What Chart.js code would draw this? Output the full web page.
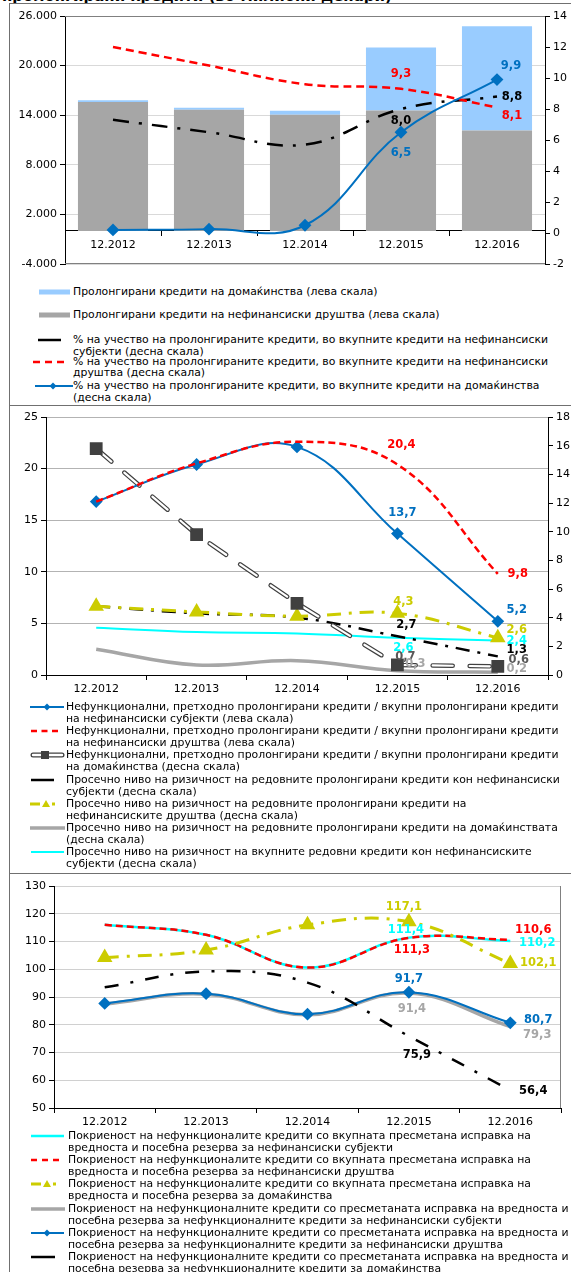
<!DOCTYPE html>
<html>
<head>
<meta charset="utf-8">
<script src="https://cdn.jsdelivr.net/npm/chart.js@4.4.1/dist/chart.umd.min.js"></script>
<style>
html, body { margin: 0; padding: 0; background: #fff; }
body { width: 571px; height: 1272px; overflow: hidden; position: relative; font-family: "DejaVu Sans", Verdana, sans-serif; color: #000; }
canvas { position: absolute; }
.rule { position: absolute; background: #707070; }
.item { position: absolute; left: 0; font-size: 10.85px; white-space: nowrap; }
.item svg { position: absolute; left: 0; top: 0; }
.title { position: absolute; left: 2px; top: -13px; font-weight: bold; font-size: 15px; white-space: nowrap; }
</style>
</head>
<body>
<div class="title">пролонгирани кредити (во милиони денари)</div>
<div class="rule" style="left:9px;top:3px;width:1px;height:1269px"></div>
<div class="rule" style="left:9px;top:3px;width:562px;height:1px"></div>
<div class="rule" style="left:9px;top:405px;width:562px;height:1px"></div>
<div class="rule" style="left:9px;top:873px;width:562px;height:1px"></div>

<canvas id="c1" width="600" height="270" style="left:10px;top:4px"></canvas>
<canvas id="c2" width="600" height="296" style="left:10px;top:406px"></canvas>
<canvas id="c3" width="600" height="260" style="left:10px;top:874px"></canvas>
<div id="leg"></div>

<script>
// ---- DATA
const years = ['12.2012', '12.2013', '12.2014', '12.2015', '12.2016'];

// chart 1 (лева скала, милиони денари)
const corpLoans = [15600, 14650, 14050, 14580, 12160];
const hhLoans = [200, 250, 500, 7600, 12600];
// chart 1 (десна скала, %)
const shareTotal = [7.3, 6.5, 5.7, 8.0, 8.8];
const shareCorp = [12.0, 10.8, 9.6, 9.3, 8.1];
const shareHH = [0.2, 0.25, 0.5, 6.5, 9.9];
const ticks1Left = [-4000, 26000, 6000];
const ticks1Right = [-2, 14, 2];

// chart 2 (лева скала)
const nplTotal = [16.8, 20.4, 22.1, 13.7, 5.2];
const nplCorp = [16.8, 20.5, 22.6, 20.4, 9.8];
// chart 2 (десна скала)
const nplHH = [15.8, 9.8, 5.0, 0.7, 0.6];
const riskTotal = [4.8, 4.3, 4.0, 2.7, 1.3];
const riskCorp = [4.8, 4.4, 4.1, 4.3, 2.6];
const riskHH = [1.8, 0.7, 1.0, 0.3, 0.2];
const riskAll = [3.3, 3.0, 2.9, 2.6, 2.4];
const ticks2Left = [0, 25, 5];
const ticks2Right = [0, 18, 2];

// chart 3
const coverTotal = [116.0, 112.4, 100.6, 111.4, 110.2];
const coverCorp = [116.0, 112.4, 100.6, 111.3, 110.6];
const coverHH = [104.2, 106.9, 116.0, 117.1, 102.1];
const coverNplTotal = [87.5, 91.0, 83.6, 91.4, 79.3];
const coverNplCorp = [87.7, 91.2, 83.8, 91.7, 80.7];
const coverNplHH = [93.5, 99.2, 95.2, 75.9, 56.4];
const ticks3 = [50, 130, 10];

// ---- COLORS
const BLUE = '#0070c0', RED = '#ff0000', GREY = '#a6a6a6', DARK = '#404040',
      YELLOW = '#cccc00', CYAN = '#00ffff', LBLUE = '#99ccff';
const FONT = '"DejaVu Sans", Verdana, sans-serif';

function fmtDec(v){ return v.toFixed(1).replace('.', ','); }
function fmtThousands(v){
  const s = Math.abs(v).toString().replace(/\B(?=(\d{3})+(?!\d))/g, '.');
  return (v < 0 ? '-' : '') + s;
}

//-----PLUGINS
const framePlugin = {
  id: 'frame',
  beforeDatasetsDraw(chart, args, opts){
    const a = chart.chartArea, c = chart.ctx;
    if (!opts.sides) return;
    c.save();
    c.strokeStyle = opts.color || '#808080';
    c.lineWidth = 1;
    c.beginPath();
    opts.sides.forEach(s => {
      if (s === 'top'){ c.moveTo(a.left, Math.round(a.top) + 0.5); c.lineTo(a.right, Math.round(a.top) + 0.5); }
      if (s === 'bottom'){ c.moveTo(a.left, Math.round(a.bottom) - 0.5); c.lineTo(a.right, Math.round(a.bottom) - 0.5); }
      if (s === 'right'){ c.moveTo(Math.round(a.right) - 0.5, a.top); c.lineTo(Math.round(a.right) - 0.5, a.bottom); }
    });
    c.stroke();
    c.restore();
  }
};

const valueLabelPlugin = {
  id: 'valueLabels',
  afterDatasetsDraw(chart, args, opts){
    const c = chart.ctx;
    c.save();
    c.font = 'bold 11.5px ' + FONT;
    c.textAlign = 'center';
    c.textBaseline = 'middle';
    (opts.items || []).forEach(it => {
      const idx = chart.data.datasets.findIndex(d => d.label === it.ds);
      const pt = chart.getDatasetMeta(idx).data[it.i];
      const v = chart.data.datasets[idx].data[it.i];
      c.fillStyle = it.color;
      c.fillText(fmtDec(v), pt.x + it.dx, pt.y + it.dy);
    });
    c.restore();
  }
};

Chart.defaults.font.family = FONT;
Chart.defaults.font.size = 11;
Chart.defaults.color = '#000';
Chart.defaults.animation = false;

function lineDs(label, data, axis, color, width, dash, extra){
  return Object.assign({
    type: 'line', label: label, data: data, yAxisID: axis,
    borderColor: color, backgroundColor: color, borderWidth: width,
    borderDash: dash || [], pointRadius: 0, tension: 0.4, fill: false
  }, extra || {});
}

function xScale(extra){
  return Object.assign({
    offset: true,
    grid: { offset: true, drawOnChartArea: false, tickLength: 5, tickColor: '#000' },
    border: { color: '#000' },
    ticks: { color: '#000', padding: 3, maxRotation: 0 }
  }, extra || {});
}

function yScale(r, pos, width, gridColor, cb){
  return {
    position: pos, min: r[0], max: r[1],
    ticks: { stepSize: r[2], color: '#000', padding: 3, callback: cb || (v => v) },
    grid: gridColor ? { color: gridColor, tickColor: '#000', tickLength: 5 }
                    : { drawOnChartArea: false, tickColor: '#000', tickLength: 5 },
    border: { color: '#000' },
    afterFit: s => { s.width = width; }
  };
}

//-----CHART 1
new Chart(document.getElementById('c1').getContext('2d'), {
  type: 'bar',
  data: {
    labels: years,
    datasets: [
      lineDs('shareHH', shareHH, 'y1', BLUE, 2, null,
        { pointRadius: 5, pointStyle: 'rectRot', order: 1 }),
      lineDs('shareCorp', shareCorp, 'y1', RED, 2.5, [8, 5], { order: 2 }),
      lineDs('shareTotal', shareTotal, 'y1', '#000', 2.5, [16, 10, 3, 10], { order: 3 }),
      { type: 'bar', label: 'corp', data: corpLoans, yAxisID: 'y', backgroundColor: GREY,
        stack: 's', order: 10, categoryPercentage: 1, barPercentage: 0.73 },
      { type: 'bar', label: 'hh', data: hhLoans, yAxisID: 'y', backgroundColor: LBLUE,
        stack: 's', order: 11, categoryPercentage: 1, barPercentage: 0.73 }
    ]
  },
  plugins: [framePlugin, valueLabelPlugin],
  options: {
    responsive: false,
    layout: { padding: { top: 12, bottom: 10, left: 0, right: 0 } },
    plugins: {
      legend: { display: false }, tooltip: { enabled: false },
      frame: { sides: ['top', 'bottom'], color: '#808080' },
      valueLabels: { items: [
        { ds: 'shareCorp', i: 3, color: RED, dx: 0, dy: -15 },
        { ds: 'shareCorp', i: 4, color: RED, dx: 15, dy: 9 },
        { ds: 'shareTotal', i: 3, color: '#000', dx: 0, dy: 12 },
        { ds: 'shareTotal', i: 4, color: '#000', dx: 15, dy: 0 },
        { ds: 'shareHH', i: 3, color: BLUE, dx: 0, dy: 21 },
        { ds: 'shareHH', i: 4, color: BLUE, dx: 14, dy: -14 }
      ] }
    },
    scales: {
      x: xScale({ stacked: true, position: { y: 0 } }),
      y: Object.assign(yScale(ticks1Left, 'left', 55, '#d9d9d9', fmtThousands), { stacked: true }),
      y1: yScale(ticks1Right, 'right', 65, null)
    }
  }
});

//-----CHART 2
new Chart(document.getElementById('c2').getContext('2d'), {
  type: 'line',
  data: {
    labels: years,
    datasets: [
      lineDs('nplCorp', nplCorp, 'y', RED, 2.5, [7, 4], { order: 0 }),
      lineDs('nplTotal', nplTotal, 'y', BLUE, 2, null,
        { pointRadius: 5, pointStyle: 'rectRot', order: 1 }),
      lineDs('nplHH', nplHH, 'y1', '#ffffff', 2.2, [20, 17],
        { tension: 0, borderCapStyle: 'round', pointRadius: 7.5, pointStyle: 'rect',
          pointBackgroundColor: DARK, pointBorderColor: DARK, order: 2 }),
      lineDs('nplHHedge', nplHH, 'y1', DARK, 4.6, [20, 17],
        { tension: 0, borderCapStyle: 'round', order: 3 }),
      lineDs('riskCorp', riskCorp, 'y1', YELLOW, 3, [14, 8, 3, 8],
        { pointRadius: 6, pointStyle: 'triangle', order: 4 }),
      lineDs('riskTotal', riskTotal, 'y1', '#000', 2.5, [14, 8, 3, 8], { order: 5 }),
      lineDs('riskAll', riskAll, 'y1', CYAN, 2, null, { order: 6 }),
      lineDs('riskHH', riskHH, 'y1', GREY, 3.5, null, { order: 7 })
    ]
  },
  plugins: [valueLabelPlugin],
  options: {
    responsive: false,
    layout: { padding: { top: 11, bottom: 0, left: 0, right: 0 } },
    plugins: {
      legend: { display: false }, tooltip: { enabled: false },
      valueLabels: { items: [
        { ds: 'nplCorp', i: 3, color: RED, dx: 4, dy: -19 },
        { ds: 'nplCorp', i: 4, color: RED, dx: 20, dy: 0 },
        { ds: 'nplTotal', i: 3, color: BLUE, dx: 5, dy: -21 },
        { ds: 'nplTotal', i: 4, color: BLUE, dx: 19, dy: -11 },
        { ds: 'riskCorp', i: 3, color: YELLOW, dx: 6, dy: -11 },
        { ds: 'riskCorp', i: 4, color: YELLOW, dx: 19, dy: -8 },
        { ds: 'riskTotal', i: 3, color: '#000', dx: 9, dy: -11 },
        { ds: 'riskTotal', i: 4, color: '#000', dx: 19, dy: -6 },
        { ds: 'riskAll', i: 3, color: CYAN, dx: 6, dy: 10 },
        { ds: 'riskAll', i: 4, color: CYAN, dx: 19, dy: 0 },
        { ds: 'nplHH', i: 3, color: '#595959', dx: 8, dy: -8 },
        { ds: 'nplHH', i: 4, color: '#595959', dx: 21, dy: -6 },
        { ds: 'riskHH', i: 3, color: GREY, dx: 18, dy: -7 },
        { ds: 'riskHH', i: 4, color: GREY, dx: 19, dy: -3 }
      ] }
    },
    scales: {
      x: xScale({ afterFit: s => { s.height = 27; } }),
      y: yScale(ticks2Left, 'left', 36, '#b3b3b3'),
      y1: yScale(ticks2Right, 'right', 62, null)
    }
  }
});

//-----CHART 3
new Chart(document.getElementById('c3').getContext('2d'), {
  type: 'line',
  data: {
    labels: years,
    datasets: [
      lineDs('coverNplHH', coverNplHH, 'y', '#000', 2.5, [14, 12, 3, 12], { order: 0 }),
      lineDs('coverNplCorp', coverNplCorp, 'y', BLUE, 2, null,
        { pointRadius: 5, pointStyle: 'rectRot', order: 1 }),
      lineDs('coverNplTotal', coverNplTotal, 'y', GREY, 3.5, null, { order: 2 }),
      lineDs('coverHH', coverHH, 'y', YELLOW, 3, [14, 8, 3, 8],
        { pointRadius: 6, pointStyle: 'triangle', order: 3 }),
      lineDs('coverCorp', coverCorp, 'y', RED, 2.5, [7, 4], { order: 4 }),
      lineDs('coverTotal', coverTotal, 'y', CYAN, 2.5, null, { order: 5 })
    ]
  },
  plugins: [framePlugin, valueLabelPlugin],
  options: {
    responsive: false,
    layout: { padding: { top: 12, bottom: 0, left: 0, right: 49 } },
    plugins: {
      legend: { display: false }, tooltip: { enabled: false },
      frame: { sides: ['right'], color: '#808080' },
      valueLabels: { items: [
        { ds: 'coverHH', i: 3, color: YELLOW, dx: -5, dy: -15 },
        { ds: 'coverHH', i: 4, color: YELLOW, dx: 28, dy: 0 },
        { ds: 'coverTotal', i: 3, color: CYAN, dx: -3, dy: -8 },
        { ds: 'coverTotal', i: 4, color: CYAN, dx: 27, dy: 2 },
        { ds: 'coverCorp', i: 3, color: RED, dx: 3, dy: 12 },
        { ds: 'coverCorp', i: 4, color: RED, dx: 23, dy: -10 },
        { ds: 'coverNplCorp', i: 3, color: BLUE, dx: 0, dy: -13 },
        { ds: 'coverNplCorp', i: 4, color: BLUE, dx: 28, dy: -3 },
        { ds: 'coverNplTotal', i: 3, color: GREY, dx: 3, dy: 16 },
        { ds: 'coverNplTotal', i: 4, color: GREY, dx: 27, dy: 8 },
        { ds: 'coverNplHH', i: 3, color: '#000', dx: 8, dy: 19 },
        { ds: 'coverNplHH', i: 4, color: '#000', dx: 23, dy: 1 }
      ] }
    },
    scales: {
      x: xScale({ afterFit: s => { s.height = 26; } }),
      y: yScale(ticks3, 'left', 44, '#d0d0d0')
    }
  }
});

//-----LEGENDS
function sampleSvg(s){
  let g = '';
  const y = 6;
  if (s.kind === 'bar'){
    g += `<rect x="${s.x1}" y="${y - 2.5}" width="${s.x2 - s.x1}" height="5" fill="${s.color}"/>`;
  } else if (s.kind === 'double'){
    g += `<line x1="${s.x1 + 3}" y1="${y}" x2="${s.x2 - 3}" y2="${y}" stroke="${DARK}" stroke-width="5" stroke-linecap="round"/>`;
    g += `<line x1="${s.x1 + 3}" y1="${y}" x2="${s.x2 - 3}" y2="${y}" stroke="#fff" stroke-width="2.4" stroke-linecap="round"/>`;
  } else {
    g += `<line x1="${s.x1}" y1="${y}" x2="${s.x2}" y2="${y}" stroke="${s.color}" stroke-width="${s.w}"` +
         (s.dash ? ` stroke-dasharray="${s.dash}"` : '') + '/>';
  }
  if (s.marker === 'diamond') g += `<path d="M${s.mx} ${y - 3.5}L${s.mx + 3.5} ${y}L${s.mx} ${y + 3.5}L${s.mx - 3.5} ${y}Z" fill="${s.color}"/>`;
  if (s.marker === 'square') g += `<rect x="${s.mx - 4}" y="${y - 4}" width="8" height="8" fill="${DARK}"/>`;
  if (s.marker === 'triangle') g += `<path d="M${s.mx} ${y - 4}L${s.mx + 4} ${y + 3}L${s.mx - 4} ${y + 3}Z" fill="${s.color}"/>`;
  return `<svg width="80" height="12">${g}</svg>`;
}

const legend1 = [
  { s: { kind: 'bar', x1: 39, x2: 70, color: LBLUE }, text: ['Пролонгирани кредити на домаќинства (лева скала)'] },
  { s: { kind: 'bar', x1: 39, x2: 70, color: GREY }, text: ['Пролонгирани кредити на нефинансиски друштва (лева скала)'] },
  { s: { kind: 'line', x1: 38, x2: 61, color: '#000', w: 2.5 }, text: ['% на учество на пролонгираните кредити, во вкупните кредити на нефинансиски', 'субјекти (десна скала)'] },
  { s: { kind: 'line', x1: 33, x2: 64, color: RED, w: 2.5, dash: '7 5' }, text: ['% на учество на пролонгираните кредити, во вкупните кредити на нефинансиски', 'друштва (десна скала)'] },
  { s: { kind: 'line', x1: 35, x2: 73, color: BLUE, w: 2, marker: 'diamond', mx: 53 }, text: ['% на учество на пролонгираните кредити, во вкупните кредити на домаќинства', '(десна скала)'] }
];
const legend2 = [
  { s: { kind: 'line', x1: 30, x2: 64, color: BLUE, w: 2, marker: 'diamond', mx: 47 }, text: ['Нефункционални, претходно пролонгирани кредити / вкупни пролонгирани кредити', 'на нефинансиски субјекти (лева скала)'] },
  { s: { kind: 'line', x1: 31, x2: 58, color: RED, w: 2.5, dash: '6 4.5' }, text: ['Нефункционални, претходно пролонгирани кредити / вкупни пролонгирани кредити', 'на нефинансиски друштва (лева скала)'] },
  { s: { kind: 'double', x1: 30, x2: 65, marker: 'square', mx: 45 }, text: ['Нефункционални, претходно пролонгирани кредити / вкупни пролонгирани кредити', 'на домаќинства (десна скала)'] },
  { s: { kind: 'line', x1: 31, x2: 54, color: '#000', w: 2.5 }, text: ['Просечно ниво на ризичност на редовните пролонгирани кредити кон нефинансиски', 'субјекти (десна скала)'] },
  { s: { kind: 'line', x1: 30, x2: 56, color: YELLOW, w: 3, dash: '10 12 3 20', marker: 'triangle', mx: 46 }, text: ['Просечно ниво на ризичност на редовните пролонгирани кредити на', 'нефинансиските друштва (десна скала)'] },
  { s: { kind: 'line', x1: 30, x2: 65, color: GREY, w: 3.5 }, text: ['Просечно ниво на ризичност на редовните пролонгирани кредити на домаќинствата', '(десна скала)'] },
  { s: { kind: 'line', x1: 31, x2: 64, color: CYAN, w: 2 }, text: ['Просечно ниво на ризичност на вкупните редовни кредити кон нефинансиските', 'субјекти (десна скала)'] }
];
const legend3 = [
  { s: { kind: 'line', x1: 31, x2: 64, color: CYAN, w: 2.5 }, text: ['Покриеност на нефункционалите кредити со вкупната пресметана исправка на', 'вредноста и посебна резерва за нефинансиски субјекти'] },
  { s: { kind: 'line', x1: 31, x2: 60, color: RED, w: 2.5, dash: '6 5' }, text: ['Покриеност на нефункционалите кредити со вкупната пресметана исправка на', 'вредноста и посебна резерва за нефинансиски друштва'] },
  { s: { kind: 'line', x1: 31, x2: 56, color: YELLOW, w: 3, dash: '10 12 3 20', marker: 'triangle', mx: 47 }, text: ['Покриеност на нефункционалите кредити со вкупната пресметана исправка на', 'вредноста и посебна резерва за домаќинства'] },
  { s: { kind: 'line', x1: 31, x2: 65, color: GREY, w: 3.5 }, text: ['Покриеност на нефункционалните кредити со пресметаната исправка на вредноста и', 'посебна резерва за нефункционалните кредити за нефинансиски субјекти'] },
  { s: { kind: 'line', x1: 31, x2: 64, color: BLUE, w: 2, marker: 'diamond', mx: 47 }, text: ['Покриеност на нефункционалните кредити со пресметаната исправка на вредноста и', 'посебна резерва за нефункционалните кредити за нефинансиски друштва'] },
  { s: { kind: 'line', x1: 31, x2: 55, color: '#000', w: 2.5 }, text: ['Покриеност на нефункционалните кредити со пресметаната исправка на вредноста и', 'посебна резерва за нефункционалните кредити за домаќинства'] }
];

function drawLegend(items, tops, textLeft, lineH){
  const host = document.getElementById('leg');
  items.forEach((it, k) => {
    const d = document.createElement('div');
    d.className = 'item';
    d.style.top = tops[k] + 'px';
    d.style.lineHeight = lineH + 'px';
    d.innerHTML = sampleSvg(it.s) +
      `<div style="margin-left:${textLeft}px">${it.text.join('<br>')}</div>`;
    host.appendChild(d);
  });
}

drawLegend(legend1, [286, 309, 334, 355.5, 380], 73, 11.5);
drawLegend(legend2, legend2.map((_, k) => 701 + k * 24.2), 66, 12.1);
drawLegend(legend3, legend3.map((_, k) => 1130 + k * 24.2), 68, 12.05);
</script>
</body>
</html>
